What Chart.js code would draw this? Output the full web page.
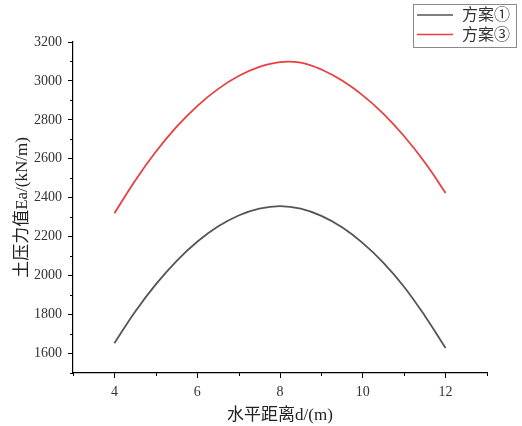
<!DOCTYPE html>
<html>
<head>
<meta charset="utf-8">
<script src="https://cdn.jsdelivr.net/npm/chart.js@4.4.1/dist/chart.umd.min.js"></script>
<style>
  html, body { margin: 0; padding: 0; background: #fff; }
  #wrap { width: 522px; height: 426px; position: relative; }
</style>
</head>
<body>
<div id="wrap"><canvas id="tuyaChart"></canvas></div>
<script>
// horizontal distance d (m)
const xValues = [4, 4.5, 5, 5.5, 6, 6.5, 7, 7.5, 8, 8.5, 9, 9.5, 10, 10.5, 11, 11.5, 12];
// earth pressure Ea (kN/m)
const fangan1 = [1653, 1815, 1955, 2075, 2174, 2252, 2309, 2344, 2357, 2344, 2307, 2248, 2167, 2066, 1942, 1793, 1628];
const fangan3 = [2320, 2488, 2636, 2764, 2871, 2958, 3025, 3072, 3097, 3094, 3059, 3002, 2926, 2831, 2716, 2581, 2425];

const seriesNames = ["方案①", "方案③"];
const seriesColors = ["#555555", "#e8403f"];

const xTicks = [4, 6, 8, 10, 12];
const yTicks = [1600, 1800, 2000, 2200, 2400, 2600, 2800, 3000, 3200];
const xMinor = [3, 5, 7, 9, 11, 13];
const yMinor = [1500, 1700, 1900, 2100, 2300, 2500, 2700, 2900, 3100];

const serifFont = "'Liberation Serif', 'DejaVu Serif', 'Noto Sans CJK SC', serif";

function toPoints(ys) {
    return xValues.map((x, i) => ({ x: x, y: ys[i] }));
}

// short outward ticks between the labelled ones
const minorTicks = {
    id: 'minorTicks',
    afterDraw(chart) {
        const ctx = chart.ctx;
        const xs = chart.scales.x, ys = chart.scales.y;
        const area = chart.chartArea;
        ctx.save();
        ctx.strokeStyle = '#000';
        ctx.lineWidth = 1;
        ctx.beginPath();
        xMinor.forEach(v => {
            const px = Math.round(xs.getPixelForValue(v)) + 0.5;
            ctx.moveTo(px, area.bottom);
            ctx.lineTo(px, area.bottom + 3);
        });
        yMinor.forEach(v => {
            const py = Math.round(ys.getPixelForValue(v)) + 0.5;
            ctx.moveTo(area.left, py);
            ctx.lineTo(area.left - 3, py);
        });
        ctx.stroke();
        ctx.restore();
    }
};

// boxed legend in the top right corner
const boxLegend = {
    id: 'boxLegend',
    afterDraw(chart) {
        const ctx = chart.ctx;
        ctx.save();
        ctx.strokeStyle = '#8a8a8a';
        ctx.lineWidth = 1;
        ctx.fillStyle = '#fff';
        ctx.fillRect(413.5, 4.5, 103, 43);
        ctx.strokeRect(413.5, 4.5, 103, 43);
        ctx.font = "16px " + serifFont;
        ctx.textBaseline = 'middle';
        seriesNames.forEach((name, i) => {
            const y = 15 + i * 19.5;
            ctx.strokeStyle = seriesColors[i];
            ctx.lineWidth = 1.6;
            ctx.beginPath();
            ctx.moveTo(417, y);
            ctx.lineTo(453, y);
            ctx.stroke();
            ctx.fillStyle = '#333';
            ctx.fillText(name, 462, y + 1);
        });
        ctx.restore();
    }
};

const ctx = document.getElementById("tuyaChart").getContext('2d');

let tuyaChart = new Chart(ctx, {
    type: 'line',
    data: {
        datasets: seriesNames.map((name, i) => ({
            label: name,
            data: toPoints(i === 0 ? fangan1 : fangan3),
            borderColor: seriesColors[i],
            borderWidth: 1.8,
            pointRadius: 0,
            fill: false,
            tension: 0.4
        }))
    },
    options: {
        responsive: true,
        maintainAspectRatio: false,
        animation: false,
        layout: { padding: { top: 42, right: 35, left: 0, bottom: 0 } },
        plugins: {
            legend: { display: false },
            tooltip: { enabled: false }
        },
        scales: {
            x: {
                type: 'linear',
                min: 3,
                max: 13,
                afterBuildTicks(scale) { scale.ticks = xTicks.map(v => ({ value: v })); },
                afterFit(scale) { scale.height = 53; },
                grid: { drawOnChartArea: false, tickLength: 5, color: '#000' },
                border: { display: true, color: '#000', width: 1.2 },
                ticks: {
                    color: '#333',
                    padding: 6,
                    maxRotation: 0,
                    font: { family: serifFont, size: 14 },
                    callback: v => String(v)
                },
                title: {
                    display: true,
                    text: '水平距离d/(m)',
                    color: '#222',
                    padding: { top: 0, bottom: 0 },
                    font: { family: serifFont, size: 17 }
                }
            },
            y: {
                min: 1500,
                max: 3200,
                afterBuildTicks(scale) { scale.ticks = yTicks.map(v => ({ value: v })); },
                afterFit(scale) { scale.width = 73; },
                grid: { drawOnChartArea: false, tickLength: 5, color: '#000' },
                border: { display: true, color: '#000', width: 1.2 },
                ticks: {
                    color: '#333',
                    padding: 6,
                    font: { family: serifFont, size: 14 },
                    callback: v => String(v)
                },
                title: {
                    display: true,
                    text: '土压力值Ea/(kN/m)',
                    color: '#222',
                    padding: { top: 12, bottom: 0 },
                    font: { family: serifFont, size: 17 }
                }
            }
        }
    },
    plugins: [minorTicks, boxLegend]
});
</script>
</body>
</html>
